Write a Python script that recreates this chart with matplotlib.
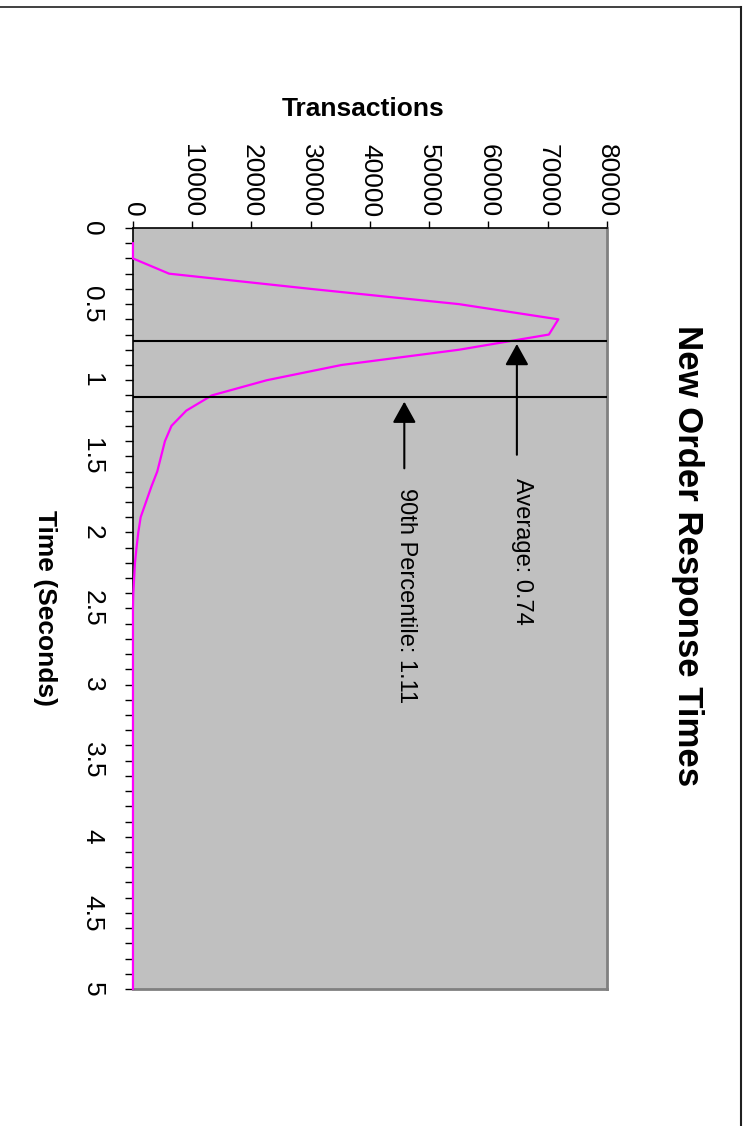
import matplotlib
matplotlib.use('Agg')
import matplotlib.pyplot as plt
from matplotlib.lines import Line2D
from matplotlib.ticker import MultipleLocator, FuncFormatter
import numpy as np

plt.rcParams['font.family'] = ['Liberation Sans', 'DejaVu Sans']

# response time histogram (seconds -> number of transactions)
times = [0.1, 0.2, 0.3, 0.4, 0.5, 0.6, 0.7, 0.8, 0.9, 1.0,
         1.1, 1.2, 1.3, 1.4, 1.5, 1.6, 1.7, 1.8, 1.9, 2.0,
         2.1, 2.2, 2.3, 2.4, 2.5, 3.0, 3.5, 4.0, 4.5, 5.0]
transactions = [0, 0, 6100, 30000, 55000, 71800, 70200, 55000, 35200, 22600,
                13300, 9000, 6500, 5400, 4750, 4100, 3100, 2200, 1300, 900,
                600, 340, 200, 60, 0, 0, 0, 0, 0, 0]

average = 0.74
percentile_90 = 1.11

fig = plt.figure(figsize=(7.47, 11.26), dpi=100)
ax = fig.add_axes([0.178, 0.1217, 0.6345, 0.6758])
ax.set_facecolor('#c0c0c0')

ax.plot(transactions, times, color='#ff00ff', lw=1.6, zorder=3, clip_on=False)

ax.set_xlim(0, 80000)
ax.set_ylim(5, 0)

# average and 90th percentile markers
ax.axhline(average, color='black', lw=1.5, zorder=4)
ax.axhline(percentile_90, color='black', lw=1.5, zorder=4)

arrow = dict(arrowstyle='-|>,head_length=0.65,head_width=0.36', color='black',
             lw=1.5, shrinkA=0, shrinkB=0, mutation_scale=20)
ax.annotate('', xy=(64800, 0.762), xytext=(64800, 1.49), arrowprops=arrow, zorder=5)
ax.annotate('', xy=(45800, 1.141), xytext=(45800, 1.579), arrowprops=arrow, zorder=5)
ax.text(65600, 1.643, f'Average: {average:.2f}', rotation=-90, ha='center', va='top',
        fontsize=17)
ax.text(46100, 1.708, f'90th Percentile: {percentile_90:.2f}', rotation=-90,
        ha='center', va='top', fontsize=17)

# axes: transactions along the top, time down the left side
ax.xaxis.set_major_locator(MultipleLocator(10000))
ax.yaxis.set_major_locator(MultipleLocator(0.5))
ax.yaxis.set_minor_locator(MultipleLocator(0.1))
ax.yaxis.set_major_formatter(FuncFormatter(lambda v, p: f'{v:g}'))
ax.tick_params(axis='x', which='both', top=True, bottom=False, labeltop=True,
               labelbottom=False, direction='out', length=5, width=1,
               labelsize=19, pad=3, labelrotation=-90)
ax.tick_params(axis='y', which='both', left=True, direction='out', length=5.5,
               width=1, labelsize=19, pad=15, labelrotation=-90)
for lab in ax.get_yticklabels():
    lab.set_verticalalignment('center')

for side in ('top', 'left'):
    ax.spines[side].set_color('black')
    ax.spines[side].set_linewidth(1.2)
for side in ('right', 'bottom'):
    ax.spines[side].set_color('#808080')
    ax.spines[side].set_linewidth(2)

fig.text(0.4866, 0.9036, 'Transactions', ha='center', va='center',
         fontsize=19, fontweight='bold')
fig.text(0.060, 0.4596, 'Time (Seconds)', rotation=-90, ha='center', va='center',
         fontsize=19, fontweight='bold')
fig.text(0.920, 0.7114, 'New Order Response Times', rotation=-90, ha='center',
         va='top', fontsize=25, fontweight='bold')

# page frame along the top and right edges
fig.add_artist(Line2D([0, 741 / 747], [1 - 7 / 1126, 1 - 7 / 1126],
                      transform=fig.transFigure, color='#202020', lw=1.2))
fig.add_artist(Line2D([741 / 747, 741 / 747], [0, 1 - 7 / 1126],
                      transform=fig.transFigure, color='#202020', lw=1.5))

fig.savefig('out.png', dpi=100)
